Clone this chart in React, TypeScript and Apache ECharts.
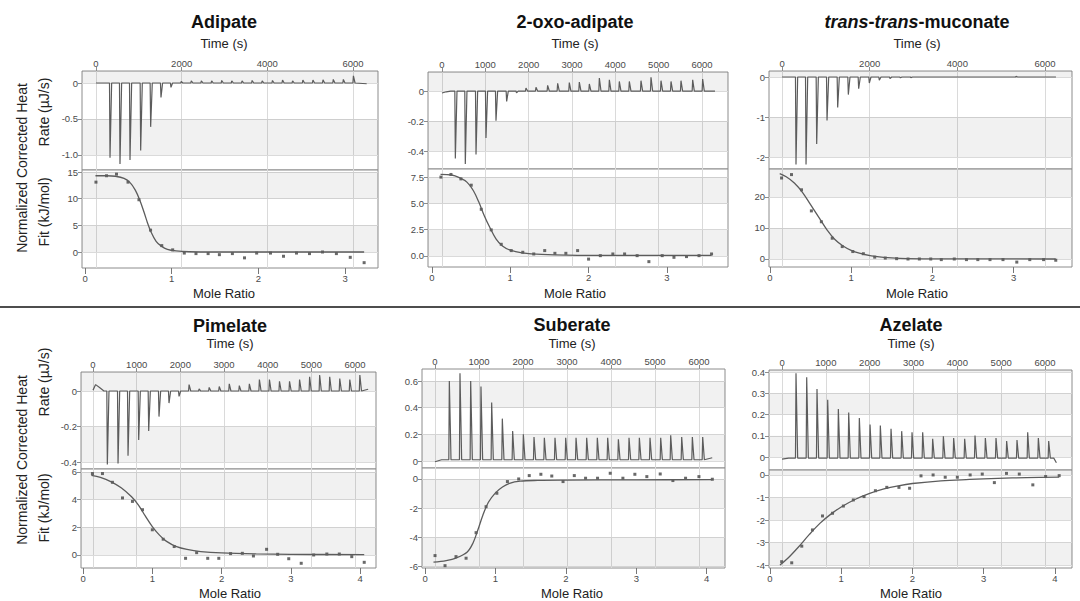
import React, { useEffect, useRef } from 'react';
import * as echarts from 'echarts';

// ---------------- tick values & labels ----------------
const timeTicks2k = [0, 2000, 4000, 6000];
const timeTicks1k = [0, 1000, 2000, 3000, 4000, 5000, 6000];
const mole3 = [0, 1, 2, 3];
const mole4 = [0, 1, 2, 3, 4];

const adipateRateTicks = [-1, -0.5, 0];
const adipateRateLabels = ['-1.0', '-0.5', '0'];
const adipateFitTicks = [0, 5, 10, 15];
const adipateFitLabels = ['0', '5', '10', '15'];

const oxoRateTicks = [-0.4, -0.2, 0];
const oxoRateLabels = ['-0.4', '-0.2', '0'];
const oxoFitTicks = [0, 2.5, 5, 7.5];
const oxoFitLabels = ['0.0', '2.5', '5.0', '7.5'];

const mucRateTicks = [-2, -1, 0];
const mucRateLabels = ['-2', '-1', '0'];
const mucFitTicks = [0, 10, 20];
const mucFitLabels = ['0', '10', '20'];

const pimRateTicks = [-0.4, -0.2, 0];
const pimRateLabels = ['-0.4', '-0.2', '0'];
const pimFitTicks = [0, 2, 4, 6];
const pimFitLabels = ['0', '2', '4', '6'];

const subRateTicks = [0, 0.2, 0.4, 0.6];
const subRateLabels = ['0', '0.2', '0.4', '0.6'];
const subFitTicks = [-6, -4, -2, 0];
const subFitLabels = ['-6', '-4', '-2', '0'];

const azeRateTicks = [0, 0.1, 0.2, 0.3, 0.4];
const azeRateLabels = ['0', '0.1', '0.2', '0.3', '0.4'];
const azeFitTicks = [-4, -3, -2, -1, 0];
const azeFitLabels = ['-4', '-3', '-2', '-1', '0'];

// ---------------- thermograms (injection time s, peak µJ/s) ----------------
const adipateInjTime = [327, 560, 794, 1043, 1276, 1517, 1750, 1990, 2225, 2460, 2700, 2935, 3170, 3410, 3645, 3880, 4120, 4355, 4590, 4830, 5065, 5300, 5540, 5775, 6010];
const adipatePeak = [-1.04, -1.125, -1.07, -0.94, -0.61, -0.2, -0.06, 0.02, 0.03, 0.03, 0.03, 0.035, 0.03, 0.03, 0.035, 0.03, 0.035, 0.04, 0.03, 0.04, 0.04, 0.045, 0.05, 0.05, 0.1];
const adipateLead = [[0, 0]];
const adipateTail = [[6320, -0.01]];

const oxoInjTime = [308, 538, 785, 1015, 1246, 1492, 1720, 1938, 2169, 2438, 2669, 2938, 3169, 3400, 3631, 3862, 4092, 4323, 4592, 4823, 5054, 5285, 5515, 5785, 6015];
const oxoPeak = [-0.45, -0.486, -0.424, -0.313, -0.198, -0.069, -0.012, 0.02, 0.025, 0.038, 0.051, 0.056, 0.06, 0.047, 0.087, 0.075, 0.064, 0.064, 0.069, 0.091, 0.069, 0.064, 0.069, 0.075, 0.08];
const oxoLead = [[0, -0.013], [100, -0.005], [200, 0]];
const oxoTail = [[6300, 0]];

const mucInjTime = [319, 548, 791, 1027, 1270, 1513, 1749, 1992, 2220, 2464, 2700, 2940, 3180, 3420, 3660, 3900, 4140, 4380, 4620, 4860, 5100, 5340, 5580, 5820, 6060];
const mucPeak = [-2.19, -2.19, -1.675, -1.09, -0.76, -0.44, -0.29, -0.15, -0.08, -0.04, -0.02, -0.015, -0.01, -0.01, -0.01, -0.01, -0.01, -0.01, 0.01, 0.01, 0.01, 0.015, 0.01, 0.01, 0.01];
const mucLead = [[0, 0]];
const mucTail = [[6250, 0]];

const pimInjTime = [328, 573, 802, 1046, 1275, 1511, 1740, 1970, 2200, 2430, 2660, 2890, 3120, 3350, 3580, 3810, 4040, 4270, 4500, 4730, 4960, 5190, 5420, 5650, 5880, 6110];
const pimPeak = [-0.414, -0.408, -0.365, -0.276, -0.225, -0.144, -0.068, -0.03, 0.036, 0.012, 0.02, 0.025, 0.04, 0.03, 0.04, 0.065, 0.065, 0.055, 0.055, 0.065, 0.08, 0.09, 0.08, 0.07, 0.065, 0.09];
const pimLead = [[0, 0.005], [60, 0.036], [150, 0.02], [250, 0]];
const pimTail = [[6300, 0.01]];

const subInjTime = [326, 568, 811, 1045, 1288, 1530, 1765, 2008, 2250, 2485, 2727, 2970, 3205, 3447, 3689, 3924, 4167, 4409, 4644, 4886, 5129, 5356, 5606, 5848, 6083];
const subPeak = [0.6, 0.658, 0.6, 0.558, 0.438, 0.318, 0.225, 0.2, 0.18, 0.175, 0.175, 0.175, 0.175, 0.175, 0.175, 0.175, 0.163, 0.175, 0.175, 0.175, 0.175, 0.193, 0.18, 0.18, 0.18];
const subLead = [[0, -0.005], [150, 0.01]];
const subTail = [[6300, 0.025]];

const azeInjTime = [319, 563, 798, 1042, 1285, 1521, 1764, 2008, 2243, 2487, 2730, 2966, 3209, 3437, 3681, 3916, 4167, 4403, 4639, 4882, 5125, 5361, 5605, 5848, 6084];
const azePeak = [0.395, 0.376, 0.32, 0.27, 0.226, 0.21, 0.184, 0.153, 0.148, 0.133, 0.122, 0.117, 0.117, 0.086, 0.098, 0.09, 0.086, 0.101, 0.09, 0.09, 0.075, 0.08, 0.117, 0.09, 0.075];
const azeLead = [[0, -0.01], [150, -0.005]];
const azeTail = [[6200, -0.005], [6260, -0.027]];

// ---------------- isotherms: integrated points ----------------
const adipateMole = [0.126, 0.248, 0.363, 0.496, 0.622, 0.756, 0.885, 1.011, 1.145, 1.28, 1.42, 1.55, 1.7, 1.84, 1.98, 2.14, 2.29, 2.44, 2.59, 2.74, 2.9, 3.06, 3.22];
const adipateHeat = [13.1, 14.3, 14.6, 13.1, 9.8, 4.1, 1.2, 0.4, -0.2, -0.3, -0.3, -0.5, -0.3, -1.1, -0.2, -0.2, -0.8, -0.2, -0.3, 0, -0.3, -1.0, -2.0];
const adipateFitX = [0.12, 0.25, 0.35, 0.45, 0.52, 0.58, 0.63, 0.68, 0.72, 0.76, 0.82, 0.88, 0.95, 1.05, 1.2, 1.5, 2.0, 3.22];
const adipateFitY = [14.3, 14.3, 14.2, 13.8, 13.0, 11.6, 9.8, 7.5, 5.5, 3.8, 2.0, 1.1, 0.5, 0.2, 0.05, 0, 0, 0];

const oxoMole = [0.115, 0.243, 0.37, 0.502, 0.63, 0.757, 0.885, 1.013, 1.16, 1.3, 1.44, 1.57, 1.71, 1.86, 2.0, 2.15, 2.31, 2.46, 2.62, 2.77, 2.94, 3.09, 3.25, 3.41, 3.57];
const oxoHeat = [7.5, 7.75, 7.33, 6.73, 4.44, 2.48, 1.11, 0.51, 0.35, 0.19, 0.51, 0.25, 0.25, 0.51, -0.3, 0.03, 0.19, 0.19, 0.03, -0.54, 0.03, -0.13, -0.06, 0.03, 0.19];
const oxoFitX = [0.11, 0.25, 0.35, 0.45, 0.53, 0.6, 0.67, 0.74, 0.82, 0.9, 1.0, 1.15, 1.4, 2.0, 3.57];
const oxoFitY = [7.75, 7.7, 7.45, 7.0, 6.2, 5.1, 3.8, 2.7, 1.6, 0.95, 0.55, 0.3, 0.15, 0.05, 0.05];

const mucMole = [0.143, 0.265, 0.388, 0.51, 0.633, 0.767, 0.89, 1.02, 1.15, 1.29, 1.42, 1.56, 1.7, 1.84, 1.98, 2.11, 2.27, 2.42, 2.56, 2.71, 2.87, 3.04, 3.2, 3.37, 3.52];
const mucHeat = [26.1, 27.2, 22.3, 15.5, 12.0, 6.7, 4.0, 2.4, 1.7, 0.6, 0.3, 0.1, 0, 0, 0, -0.2, 0, -0.2, -0.2, -0.2, -0.2, -1.0, -0.2, -0.2, -0.4];
const mucFitX = [0.12, 0.2, 0.3, 0.4, 0.5, 0.6, 0.7, 0.8, 0.9, 1.0, 1.1, 1.25, 1.4, 1.6, 2.0, 3.52];
const mucFitY = [27.5, 26.5, 24.5, 21.5, 17.5, 13.5, 9.5, 6.3, 4.2, 2.8, 1.9, 1.0, 0.5, 0.2, 0.05, 0];

const pimMole = [0.135, 0.28, 0.424, 0.569, 0.713, 0.858, 1.0, 1.157, 1.316, 1.48, 1.64, 1.8, 1.96, 2.13, 2.3, 2.46, 2.65, 2.81, 2.97, 3.15, 3.33, 3.52, 3.7, 3.88, 4.06];
const pimHeat = [5.88, 5.88, 5.25, 4.12, 3.87, 3.27, 1.82, 1.14, 0.61, -0.24, 0.17, -0.24, -0.24, 0.1, 0.12, -0.07, 0.41, 0.05, -0.27, -0.6, 0, 0.07, 0.07, -0.12, -0.53];
const pimFitX = [0.12, 0.25, 0.4, 0.55, 0.7, 0.8, 0.9, 1.0, 1.1, 1.2, 1.35, 1.5, 1.7, 2.0, 2.5, 3.0, 4.06];
const pimFitY = [5.75, 5.6, 5.3, 4.85, 4.2, 3.6, 2.8, 2.05, 1.45, 1.0, 0.6, 0.4, 0.25, 0.15, 0.08, 0.05, 0.02];

const subMole = [0.142, 0.284, 0.44, 0.583, 0.725, 0.867, 1.02, 1.17, 1.33, 1.48, 1.645, 1.8, 1.96, 2.12, 2.28, 2.45, 2.63, 2.81, 2.98, 3.15, 3.34, 3.52, 3.7, 3.89, 4.08];
const subHeat = [-5.25, -5.94, -5.32, -5.43, -3.68, -1.9, -0.98, -0.18, 0, 0.23, 0.32, 0.2, -0.18, 0.23, 0.05, 0.05, 0.39, 0.05, 0.32, 0.16, 0.34, -0.11, 0.05, 0.16, -0.02];
const subFitX = [0.12, 0.3, 0.45, 0.6, 0.68, 0.75, 0.82, 0.9, 1.0, 1.1, 1.2, 1.35, 1.6, 2.0, 3.0, 4.08];
const subFitY = [-5.7, -5.6, -5.4, -5.0, -4.4, -3.5, -2.5, -1.6, -0.95, -0.55, -0.3, -0.15, -0.1, -0.08, -0.06, -0.05];

const azeMole = [0.164, 0.305, 0.446, 0.596, 0.737, 0.878, 1.03, 1.17, 1.32, 1.48, 1.64, 1.81, 1.96, 2.12, 2.29, 2.46, 2.63, 2.81, 2.98, 3.15, 3.32, 3.5, 3.69, 3.87, 4.06];
const azeHeat = [-3.85, -3.9, -3.16, -2.44, -1.82, -1.7, -1.38, -1.11, -0.96, -0.7, -0.55, -0.55, -0.59, -0.04, 0, -0.1, -0.1, 0, 0.04, -0.34, 0.07, 0.04, -0.44, -0.07, -0.03];
const azeFitX = [0.14, 0.25, 0.4, 0.55, 0.7, 0.85, 1.0, 1.2, 1.4, 1.6, 1.8, 2.0, 2.4, 2.8, 3.2, 3.6, 4.06];
const azeFitY = [-4.0, -3.7, -3.2, -2.65, -2.15, -1.75, -1.42, -1.08, -0.82, -0.62, -0.48, -0.38, -0.26, -0.2, -0.15, -0.12, -0.1];

// ---------------- styles ----------------
const FONT = '"Liberation Sans", Arial, Helvetica, sans-serif';
const BORDER = '#8c8c8c';
const GRIDLINE = '#dadada';
const BAND = 'rgba(0,0,0,0.055)';
const TRACE = '#5c5c5c';
const LABEL = '#4a4a4a';
const TICKFS = 9.5;

type Panel = {
  title: string;
  rich?: boolean;
  cx: number; titleY: number; timeY: number; moleY: number;
  left: number; right: number; top: number; mid: number; bottom: number;
  timeMin: number; timeMax: number; timeTicks: number[];
  rateMin: number; rateMax: number; rateTicks: number[]; rateLabels: string[];
  moleMin: number; moleMax: number; moleTicks: number[];
  fitMin: number; fitMax: number; fitTicks: number[]; fitLabels: string[];
  injT: number[]; peak: number[]; base: number; lead: number[][]; tail: number[][];
  mole: number[]; heat: number[]; fitX: number[]; fitY: number[];
};

const panels: Panel[] = [
  {
    title: 'Adipate', cx: 224, titleY: 22, timeY: 43, moleY: 293,
    left: 82, right: 378, top: 71, mid: 170, bottom: 268,
    timeMin: -327, timeMax: 6584, timeTicks: timeTicks2k,
    rateMin: -1.21, rateMax: 0.167, rateTicks: adipateRateTicks, rateLabels: adipateRateLabels,
    moleMin: -0.035, moleMax: 3.38, moleTicks: mole3,
    fitMin: -3.0, fitMax: 15.375, fitTicks: adipateFitTicks, fitLabels: adipateFitLabels,
    injT: adipateInjTime, peak: adipatePeak, base: 0, lead: adipateLead, tail: adipateTail,
    mole: adipateMole, heat: adipateHeat, fitX: adipateFitX, fitY: adipateFitY,
  },
  {
    title: '2-oxo-adipate', cx: 575, titleY: 22, timeY: 43, moleY: 293,
    left: 428, right: 728, top: 72, mid: 169, bottom: 267,
    timeMin: -323, timeMax: 6600, timeTicks: timeTicks1k,
    rateMin: -0.52, rateMax: 0.127, rateTicks: oxoRateTicks, rateLabels: oxoRateLabels,
    moleMin: -0.05, moleMax: 3.78, moleTicks: mole3,
    fitMin: -1.05, fitMax: 8.27, fitTicks: oxoFitTicks, fitLabels: oxoFitLabels,
    injT: oxoInjTime, peak: oxoPeak, base: 0, lead: oxoLead, tail: oxoTail,
    mole: oxoMole, heat: oxoHeat, fitX: oxoFitX, fitY: oxoFitY,
  },
  {
    title: '{i|trans}-{i|trans}-muconate', rich: true, cx: 917, titleY: 22, timeY: 43, moleY: 293,
    left: 769, right: 1072, top: 71, mid: 169, bottom: 267,
    timeMin: -297, timeMax: 6616, timeTicks: timeTicks2k,
    rateMin: -2.3, rateMax: 0.15, rateTicks: mucRateTicks, rateLabels: mucRateLabels,
    moleMin: -0.012, moleMax: 3.72, moleTicks: mole3,
    fitMin: -2.58, fitMax: 29.0, fitTicks: mucFitTicks, fitLabels: mucFitLabels,
    injT: mucInjTime, peak: mucPeak, base: 0, lead: mucLead, tail: mucTail,
    mole: mucMole, heat: mucHeat, fitX: mucFitX, fitY: mucFitY,
  },
  {
    title: 'Pimelate', cx: 230, titleY: 326, timeY: 343, moleY: 593,
    left: 81, right: 376, top: 372, mid: 469, bottom: 568,
    timeMin: -275, timeMax: 6480, timeTicks: timeTicks1k,
    rateMin: -0.439, rateMax: 0.107, rateTicks: pimRateTicks, rateLabels: pimRateLabels,
    moleMin: -0.03, moleMax: 4.23, moleTicks: mole4,
    fitMin: -0.94, fitMax: 6.21, fitTicks: pimFitTicks, fitLabels: pimFitLabels,
    injT: pimInjTime, peak: pimPeak, base: 0, lead: pimLead, tail: pimTail,
    mole: pimMole, heat: pimHeat, fitX: pimFitX, fitY: pimFitY,
  },
  {
    title: 'Suberate', cx: 572, titleY: 325, timeY: 343, moleY: 593,
    left: 422, right: 725, top: 369, mid: 468, bottom: 568,
    timeMin: -295, timeMax: 6590, timeTicks: timeTicks1k,
    rateMin: -0.052, rateMax: 0.69, rateTicks: subRateTicks, rateLabels: subRateLabels,
    moleMin: -0.043, moleMax: 4.26, moleTicks: mole4,
    fitMin: -6.1, fitMax: 0.75, fitTicks: subFitTicks, fitLabels: subFitLabels,
    injT: subInjTime, peak: subPeak, base: 0.01, lead: subLead, tail: subTail,
    mole: subMole, heat: subHeat, fitX: subFitX, fitY: subFitY,
  },
  {
    title: 'Azelate', cx: 911, titleY: 325, timeY: 343, moleY: 593,
    left: 769, right: 1072, top: 370, mid: 470, bottom: 568,
    timeMin: -297, timeMax: 6616, timeTicks: timeTicks1k,
    rateMin: -0.061, rateMax: 0.41, rateTicks: azeRateTicks, rateLabels: azeRateLabels,
    moleMin: -0.014, moleMax: 4.24, moleTicks: mole4,
    fitMin: -4.13, fitMax: 0.22, fitTicks: azeFitTicks, fitLabels: azeFitLabels,
    injT: azeInjTime, peak: azePeak, base: -0.005, lead: azeLead, tail: azeTail,
    mole: azeMole, heat: azeHeat, fitX: azeFitX, fitY: azeFitY,
  },
];

function labelFor(ticks: number[], labels: string[]) {
  return (v: number) => {
    for (let i = 0; i < ticks.length; i++) if (Math.abs(ticks[i] - v) < 1e-9) return labels[i];
    return '';
  };
}

function bands(min: number, max: number, ticks: number[]) {
  const b = [min, ...ticks.filter((t) => t > min && t < max).sort((a, c) => a - c), max];
  const out: any[] = [];
  for (let i = 0; i < b.length - 1; i++) {
    if (i % 2 === 1) out.push([{ yAxis: b[i] }, { yAxis: b[i + 1] }]);
  }
  return out;
}

function trace(p: Panel) {
  const pts: number[][] = [...p.lead];
  p.injT.forEach((t, i) => {
    pts.push([t - 12, p.base], [t, p.peak[i]], [t + 38, p.base]);
  });
  pts.push(...p.tail);
  return pts;
}

function buildOption() {
  const grid: any[] = [];
  const xAxis: any[] = [];
  const yAxis: any[] = [];
  const series: any[] = [];
  const graphic: any[] = [];
  const tickLabelStyle = { fontSize: TICKFS, color: LABEL, fontFamily: FONT };
  const noLine = { show: false, onZero: false };

  panels.forEach((p, i) => {
    const gTop = 2 * i;
    const gBot = 2 * i + 1;
    const w = p.right - p.left;
    grid.push({ left: p.left, top: p.top, width: w, height: p.mid - p.top, show: true, borderColor: BORDER, borderWidth: 1, backgroundColor: '#fff' });
    grid.push({ left: p.left, top: p.mid, width: w, height: p.bottom - p.mid, show: true, borderColor: BORDER, borderWidth: 1, backgroundColor: '#fff' });

    const xi = xAxis.length;
    const timeFmt = labelFor(p.timeTicks, p.timeTicks.map(String));
    xAxis.push({
      type: 'value', gridIndex: gTop, position: 'top', min: p.timeMin, max: p.timeMax,
      axisLine: noLine,
      axisTick: { show: true, length: 4, lineStyle: { color: BORDER }, customValues: p.timeTicks },
      axisLabel: { show: true, margin: 3, customValues: p.timeTicks, formatter: timeFmt, ...tickLabelStyle },
      splitLine: { show: true, lineStyle: { color: GRIDLINE, width: 1 } },
    });
    xAxis.push({
      type: 'value', gridIndex: gBot, position: 'bottom', min: p.moleMin, max: p.moleMax,
      axisLine: noLine,
      axisTick: { show: true, length: 6, lineStyle: { color: '#777' }, customValues: p.moleTicks },
      axisLabel: { show: true, margin: 5, customValues: p.moleTicks, formatter: labelFor(p.moleTicks, p.moleTicks.map(String)), ...tickLabelStyle },
      splitLine: { show: false },
    });
    xAxis.push({
      type: 'value', gridIndex: gBot, position: 'top', min: p.timeMin, max: p.timeMax,
      axisLine: noLine,
      axisTick: { show: false, customValues: p.timeTicks },
      axisLabel: { show: false, customValues: p.timeTicks },
      splitLine: { show: true, lineStyle: { color: GRIDLINE, width: 1 } },
    });

    const yi = yAxis.length;
    yAxis.push({
      type: 'value', gridIndex: gTop, position: 'left', min: p.rateMin, max: p.rateMax,
      axisLine: noLine,
      axisTick: { show: true, length: 4, lineStyle: { color: BORDER }, customValues: p.rateTicks },
      axisLabel: { margin: 4, customValues: p.rateTicks, formatter: labelFor(p.rateTicks, p.rateLabels), ...tickLabelStyle },
      splitLine: { show: true, lineStyle: { color: GRIDLINE, width: 1 } },
    });
    yAxis.push({
      type: 'value', gridIndex: gBot, position: 'left', min: p.fitMin, max: p.fitMax,
      axisLine: noLine,
      axisTick: { show: true, length: 4, lineStyle: { color: BORDER }, customValues: p.fitTicks },
      axisLabel: { margin: 4, customValues: p.fitTicks, formatter: labelFor(p.fitTicks, p.fitLabels), ...tickLabelStyle },
      splitLine: { show: true, lineStyle: { color: GRIDLINE, width: 1 } },
    });

    series.push({
      type: 'line', xAxisIndex: xi, yAxisIndex: yi, data: trace(p), symbol: 'none', showSymbol: false,
      lineStyle: { color: TRACE, width: 1.2 }, silent: true,
      markArea: { silent: true, itemStyle: { color: BAND }, data: bands(p.rateMin, p.rateMax, p.rateTicks) },
    });
    series.push({
      type: 'line', xAxisIndex: xi + 1, yAxisIndex: yi + 1, smooth: 0.35, symbol: 'none', showSymbol: false,
      data: p.fitX.map((x, k) => [x, p.fitY[k]]),
      lineStyle: { color: TRACE, width: 1.3 }, silent: true,
      markArea: { silent: true, itemStyle: { color: BAND }, data: bands(p.fitMin, p.fitMax, p.fitTicks) },
    });
    series.push({
      type: 'scatter', xAxisIndex: xi + 1, yAxisIndex: yi + 1, symbol: 'rect', symbolSize: 3,
      data: p.mole.map((x, k) => [x, p.heat[k]]), itemStyle: { color: '#444' }, silent: true,
    });

    const titleStyle: any = {
      text: p.title, fontSize: 18, fontWeight: 'bold', fontFamily: FONT, fill: '#111',
      align: 'center', verticalAlign: 'middle',
    };
    if (p.rich) {
      titleStyle.rich = { i: { fontStyle: 'italic', fontWeight: 'bold', fontSize: 18, fontFamily: FONT, fill: '#111' } };
    }
    graphic.push({ type: 'text', x: p.cx, y: p.titleY, style: titleStyle });
    graphic.push({ type: 'text', x: p.cx, y: p.timeY, style: { text: 'Time (s)', fontSize: 13, fontFamily: FONT, fill: '#222', align: 'center', verticalAlign: 'middle' } });
    graphic.push({ type: 'text', x: p.cx, y: p.moleY, style: { text: 'Mole Ratio', fontSize: 13, fontFamily: FONT, fill: '#222', align: 'center', verticalAlign: 'middle' } });
  });

  const yTitle = (text: string, x: number, y: number) => ({
    type: 'text', x, y, rotation: Math.PI / 2,
    style: { text, fontSize: 14, fontFamily: FONT, fill: '#222', align: 'center', verticalAlign: 'middle' },
  });
  graphic.push(yTitle('Normalized Corrected Heat', 22, 168));
  graphic.push(yTitle('Rate (µJ/s)', 44, 112));
  graphic.push(yTitle('Fit (kJ/mol)', 44, 212));
  graphic.push(yTitle('Normalized Corrected Heat', 22, 460));
  graphic.push(yTitle('Rate (µJ/s)', 44, 382));
  graphic.push(yTitle('Fit (kJ/mol)', 44, 508));
  graphic.push({ type: 'line', shape: { x1: 0, y1: 307, x2: 1080, y2: 307 }, style: { stroke: '#4d4d4d', lineWidth: 2.2 } });

  return { animation: false, backgroundColor: '#fff', grid, xAxis, yAxis, series, graphic };
}

export default function App() {
  const ref = useRef<HTMLDivElement>(null);
  useEffect(() => {
    document.body.style.margin = '0';
    if (!ref.current) return;
    const chart = echarts.init(ref.current, undefined, { renderer: 'svg' });
    chart.setOption(buildOption() as any);
    return () => chart.dispose();
  }, []);
  return <div ref={ref} style={{ width: 1080, height: 601, background: '#fff' }} />;
}
